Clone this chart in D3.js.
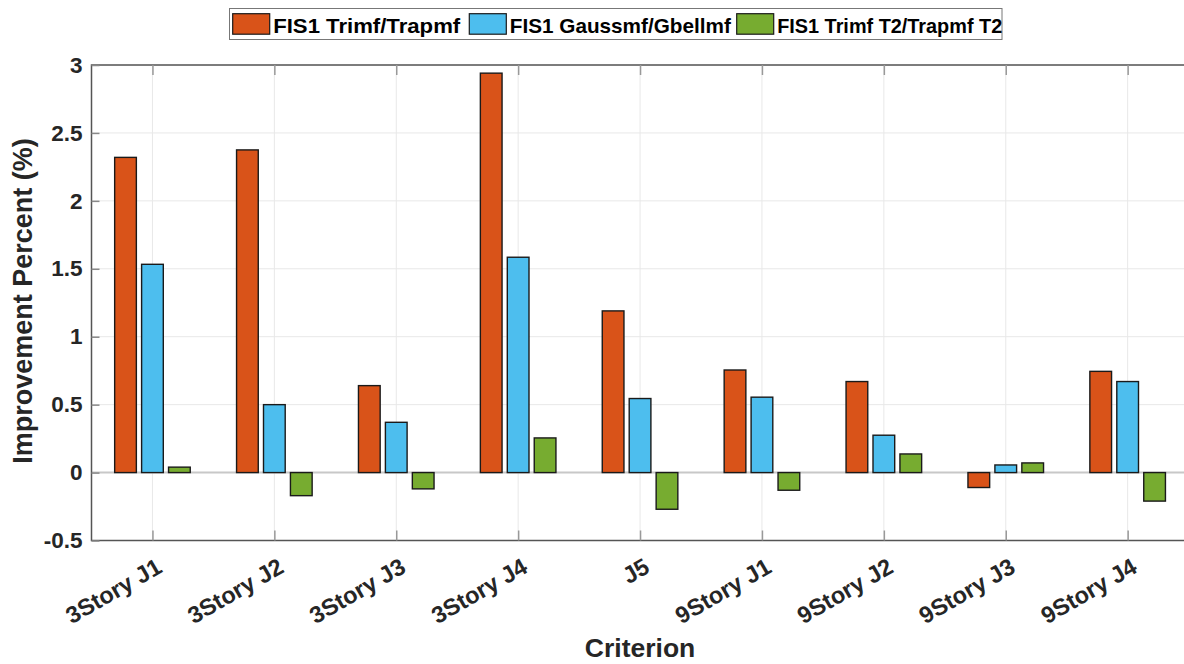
<!DOCTYPE html>
<html>
<head>
<meta charset="utf-8">
<script src="https://cdn.jsdelivr.net/npm/d3@7"></script>
<style>
  html, body { margin: 0; padding: 0; background: #fff; }
  svg { display: block; font-family: "Liberation Sans", Arial, sans-serif; }
</style>
</head>
<body>
<svg id="chart" width="1184" height="664"></svg>
<script>
const categories = ["3Story J1", "3Story J2", "3Story J3", "3Story J4", "J5", "9Story J1", "9Story J2", "9Story J3", "9Story J4"];
const seriesNames = ["FIS1 Trimf/Trapmf", "FIS1 Gaussmf/Gbellmf", "FIS1 Trimf T2/Trapmf T2"];
const seriesColors = ["#D95319", "#4DBEEE", "#77AC30"];
const trimfTrapmf = [2.32, 2.375, 0.64, 2.94, 1.19, 0.755, 0.67, -0.11, 0.745];
const gaussGbell = [1.533, 0.50, 0.37, 1.585, 0.545, 0.555, 0.275, 0.056, 0.67];
const trimfT2 = [0.04, -0.17, -0.12, 0.255, -0.27, -0.13, 0.137, 0.071, -0.21];
const yTicks = [-0.5, 0, 0.5, 1, 1.5, 2, 2.5, 3];
const yTickLabels = ["-0.5", "0", "0.5", "1", "1.5", "2", "2.5", "3"];

const series = [trimfTrapmf, gaussGbell, trimfT2];

const svg = d3.select("#chart");
const pLeft = 91.5, pTop = 65, pBottom = 540.5;
const step = 121.9;
const pRight = pLeft + step * categories.length;

const x = d3.scaleLinear().domain([0.5, categories.length + 0.5]).range([pLeft, pRight]);
const y = d3.scaleLinear().domain([-0.5, 3]).range([pBottom, pTop]);

const barOffset = 0.221; // in category units
const barW = 0.178;

// gridlines
const g = svg.append("g");
g.selectAll("line.gy").data(yTicks).enter().append("line")
  .attr("x1", pLeft).attr("x2", pRight)
  .attr("y1", d => y(d)).attr("y2", d => y(d))
  .attr("stroke", "#e8e8e8").attr("stroke-width", 1);
g.selectAll("line.gx").data(categories).enter().append("line")
  .attr("x1", (d, i) => x(i + 1)).attr("x2", (d, i) => x(i + 1))
  .attr("y1", pTop).attr("y2", pBottom)
  .attr("stroke", "#e8e8e8").attr("stroke-width", 1);

// baseline
g.append("line").attr("x1", pLeft).attr("x2", pRight)
  .attr("y1", y(0)).attr("y2", y(0))
  .attr("stroke", "#c8c8c8").attr("stroke-width", 2);

// bars
series.forEach((vals, s) => {
  svg.append("g").selectAll("rect").data(vals).enter().append("rect")
    .attr("x", (d, i) => x(i + 1 + (s - 1) * barOffset - barW / 2))
    .attr("width", x(barW) - x(0))
    .attr("y", d => y(Math.max(0, d)))
    .attr("height", d => Math.abs(y(d) - y(0)))
    .attr("fill", seriesColors[s])
    .attr("stroke", "#1a1a1a").attr("stroke-width", 1.4);
});

// axes frame
const frameColor = "#555";
svg.append("rect").attr("x", pLeft).attr("y", pTop)
  .attr("width", pRight - pLeft).attr("height", pBottom - pTop)
  .attr("fill", "none").attr("stroke", frameColor).attr("stroke-width", 1.5);

// y axis ticks and labels
const yAxis = d3.axisLeft(y).tickValues(yTicks).tickSize(-8).tickPadding(9)
  .tickFormat((d, i) => yTickLabels[i]);
const ya = svg.append("g").attr("transform", `translate(${pLeft},0)`).call(yAxis);
ya.select(".domain").remove();
ya.selectAll(".tick line").attr("stroke", "#888").attr("stroke-width", 1.5);
ya.selectAll(".tick text").attr("fill", "#262626").attr("font-size", 22.5).attr("font-weight", "bold")
  .attr("font-family", "'Liberation Sans', Arial, sans-serif");

// x ticks (bottom and top, inward)
const xTickVals = categories.map((c, i) => i + 1);
const xAxis = d3.axisBottom(x).tickValues(xTickVals).tickSize(-10).tickFormat("");
const xa = svg.append("g").attr("transform", `translate(0,${pBottom})`).call(xAxis);
xa.select(".domain").remove();
xa.selectAll(".tick line").attr("stroke", "#999").attr("stroke-width", 1.5);
const xAxisTop = d3.axisTop(x).tickValues(xTickVals).tickSize(-10).tickFormat("");
const xt = svg.append("g").attr("transform", `translate(0,${pTop})`).call(xAxisTop);
xt.select(".domain").remove();
xt.selectAll(".tick line").attr("stroke", "#999").attr("stroke-width", 1.5);

// x tick labels rotated
svg.append("g").selectAll("text").data(categories).enter().append("text")
  .attr("transform", (d, i) => `translate(${x(i + 1) + 11},${pBottom + 31}) rotate(-30)`)
  .attr("text-anchor", "end")
  .attr("font-size", 23.5).attr("font-weight", "bold").attr("fill", "#262626")
  .text(d => d);

// axis titles
svg.append("text")
  .attr("x", x(5)).attr("y", 657)
  .attr("text-anchor", "middle")
  .attr("font-size", 26.5).attr("font-weight", "bold").attr("fill", "#262626")
  .text("Criterion");
svg.append("text")
  .attr("transform", `translate(32,301) rotate(-90)`)
  .attr("text-anchor", "middle")
  .attr("font-size", 27).attr("font-weight", "bold").attr("fill", "#262626")
  .text("Improvement Percent (%)");

// legend
const legend = svg.append("g");
legend.append("rect").attr("x", 229.5).attr("y", 8.5).attr("width", 772.5).attr("height", 31)
  .attr("fill", "#fff").attr("stroke", "#777").attr("stroke-width", 1);
const legendX = [232.7, 469.3, 736.7];
const legendTextW = [187, 221, 225];
seriesNames.forEach((n, s) => {
  legend.append("rect").attr("x", legendX[s]).attr("y", 13.7).attr("width", 37).attr("height", 20.5)
    .attr("fill", seriesColors[s]).attr("stroke", "#1a1a1a").attr("stroke-width", 1.2);
  legend.append("text").attr("x", legendX[s] + 40.5).attr("y", 33.3)
    .attr("font-size", 21).attr("font-weight", "bold").attr("fill", "#000")
    .attr("textLength", legendTextW[s]).attr("lengthAdjust", "spacingAndGlyphs")
    .text(n);
});
</script>
</body>
</html>
